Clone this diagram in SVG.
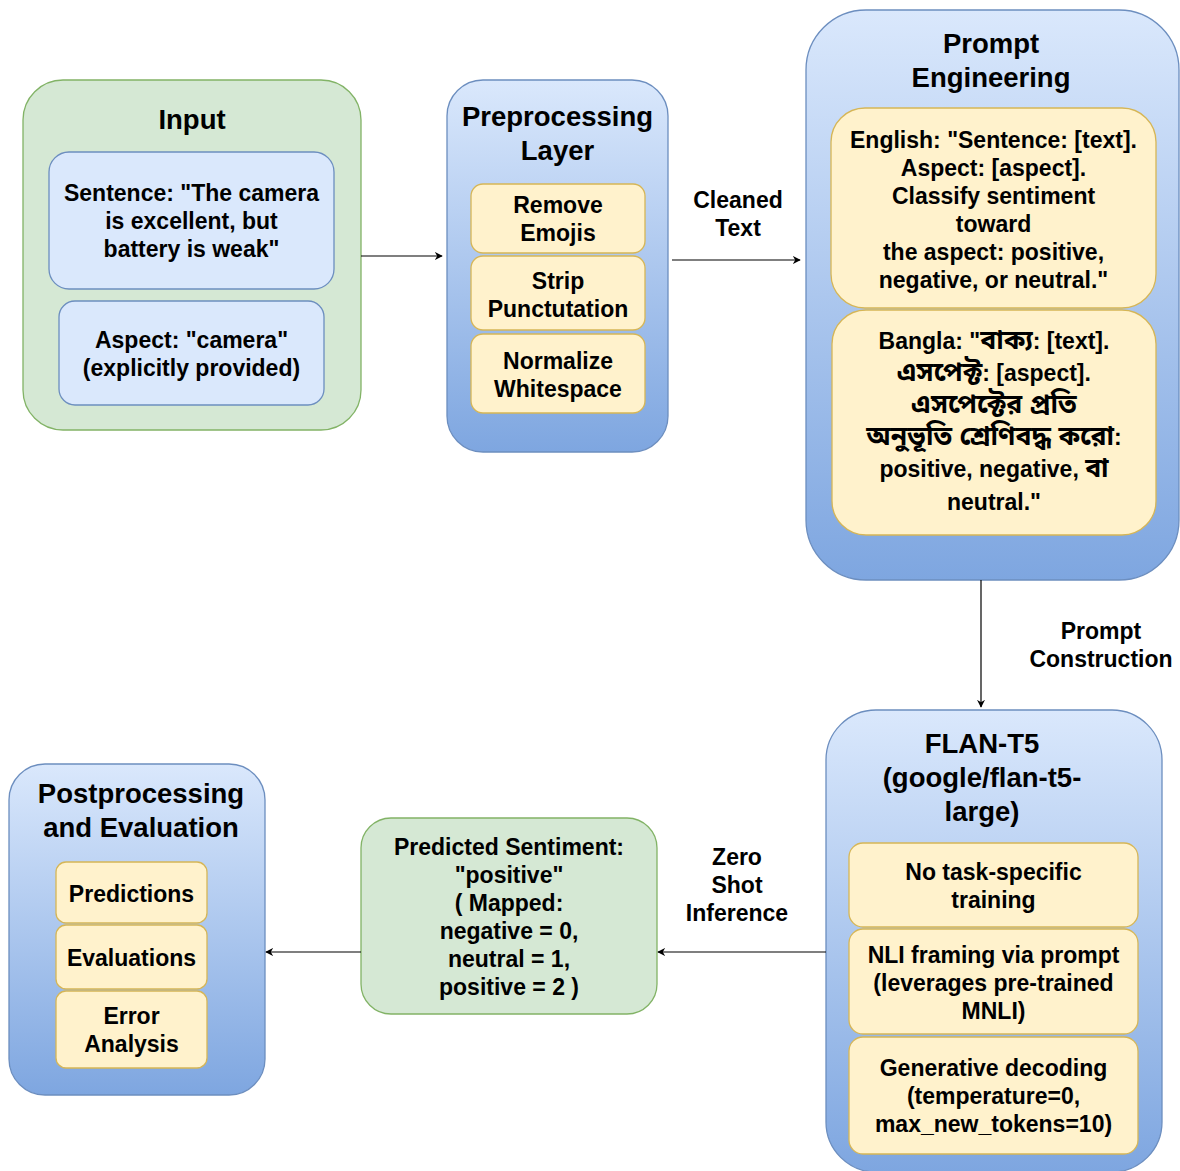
<svg xmlns="http://www.w3.org/2000/svg" width="1180" height="1171" viewBox="0 0 1180 1171">
<defs>
<linearGradient id="blueGrad" x1="0" y1="0" x2="0" y2="1">
<stop offset="0" stop-color="#dae8fc"/>
<stop offset="1" stop-color="#7ea6e0"/>
</linearGradient>
<marker id="arrow" viewBox="0 0 10 10" refX="9" refY="5" markerWidth="8" markerHeight="8" markerUnits="userSpaceOnUse" orient="auto">
<path d="M0,0 L10,5 L0,10 L3,5 Z" fill="#000"/>
</marker>
<style>
text{font-family:"Liberation Sans",Arial,"Noto Sans Bengali","Noto Sans",sans-serif;font-weight:bold;fill:#000;text-anchor:middle}
.t{font-size:27.5px}
.b{font-size:23px}
.bg{font-size:26.5px}
.green{fill:#d5e8d4;stroke:#82b366;stroke-width:1.3}
.lblue{fill:#dae8fc;stroke:#6c8ebf;stroke-width:1.3}
.cont{fill:url(#blueGrad);stroke:#6c8ebf;stroke-width:1.3}
.yel{fill:#fff2cc;stroke:#d6b656;stroke-width:1.3}
.edge{fill:none;stroke:#000;stroke-width:1.2;marker-end:url(#arrow)}
</style>
</defs>
<rect width="1180" height="1171" fill="#fff"/>

<g id="input">
<rect class="green" x="23" y="80" width="338" height="350" rx="40"/>
<text class="t" x="192" y="129">Input</text>
<rect class="lblue" x="49" y="152" width="285" height="137" rx="20"/>
<text class="b" x="191.5" y="201">Sentence: "The camera</text>
<text class="b" x="191.5" y="229">is excellent, but</text>
<text class="b" x="191.5" y="257">battery is weak"</text>
<rect class="lblue" x="59" y="301" width="265" height="104" rx="16"/>
<text class="b" x="191.5" y="348">Aspect: "camera"</text>
<text class="b" x="191.5" y="376">(explicitly provided)</text>
</g>

<g id="preprocessing">
<rect class="cont" x="447" y="80" width="221" height="372" rx="36"/>
<text class="t" x="557.5" y="126">Preprocessing</text>
<text class="t" x="557.5" y="160">Layer</text>
<rect class="yel" x="471" y="184" width="174" height="69" rx="12"/>
<text class="b" x="558" y="213">Remove</text>
<text class="b" x="558" y="241">Emojis</text>
<rect class="yel" x="471" y="256" width="174" height="74" rx="12"/>
<text class="b" x="558" y="289">Strip</text>
<text class="b" x="558" y="317">Punctutation</text>
<rect class="yel" x="471" y="334" width="174" height="79" rx="12"/>
<text class="b" x="558" y="369">Normalize</text>
<text class="b" x="558" y="397">Whitespace</text>
</g>

<g id="prompt-engineering">
<rect class="cont" x="806" y="10" width="373" height="570" rx="60"/>
<text class="t" x="991" y="53">Prompt</text>
<text class="t" x="991" y="87">Engineering</text>
<rect class="yel" x="831" y="108" width="325" height="200" rx="34"/>
<text class="b" x="993.5" y="148">English: "Sentence: [text].</text>
<text class="b" x="993.5" y="176">Aspect: [aspect].</text>
<text class="b" x="993.5" y="204">Classify sentiment</text>
<text class="b" x="993.5" y="232">toward</text>
<text class="b" x="993.5" y="260">the aspect: positive,</text>
<text class="b" x="993.5" y="288">negative, or neutral."</text>
<rect class="yel" x="832" y="310" width="324" height="225" rx="34"/>
<text class="b" x="994" y="349">Bangla: "<tspan class="bg">বাক্য</tspan>: [text].</text>
<text class="b" x="994" y="381"><tspan class="bg">এসপেক্ট</tspan>: [aspect].</text>
<text class="b" x="994" y="413"><tspan class="bg">এসপেক্টের প্রতি</tspan></text>
<text class="b" x="994" y="445"><tspan class="bg">অনুভূতি শ্রেণিবদ্ধ করো</tspan>:</text>
<text class="b" x="994" y="477">positive, negative, <tspan class="bg">বা</tspan></text>
<text class="b" x="994" y="510">neutral."</text>
</g>

<g id="flan-t5">
<rect class="cont" x="826" y="710" width="336" height="462" rx="50"/>
<text class="t" x="982" y="753">FLAN-T5</text>
<text class="t" x="982" y="787">(google/flan-t5-</text>
<text class="t" x="982" y="821">large)</text>
<rect class="yel" x="849" y="843" width="289" height="84" rx="14"/>
<text class="b" x="993.5" y="880">No task-specific</text>
<text class="b" x="993.5" y="908">training</text>
<rect class="yel" x="849" y="929" width="289" height="105" rx="14"/>
<text class="b" x="993.5" y="963">NLI framing via prompt</text>
<text class="b" x="993.5" y="991">(leverages pre-trained</text>
<text class="b" x="993.5" y="1019">MNLI)</text>
<rect class="yel" x="849" y="1037" width="289" height="117" rx="14"/>
<text class="b" x="993.5" y="1076">Generative decoding</text>
<text class="b" x="993.5" y="1104">(temperature=0,</text>
<text class="b" x="993.5" y="1132">max_new_tokens=10)</text>
</g>

<g id="predicted-sentiment">
<rect class="green" x="361" y="818" width="296" height="196" rx="30"/>
<text class="b" x="509" y="855">Predicted Sentiment:</text>
<text class="b" x="509" y="883">"positive"</text>
<text class="b" x="509" y="911">( Mapped:</text>
<text class="b" x="509" y="939">negative = 0,</text>
<text class="b" x="509" y="967">neutral = 1,</text>
<text class="b" x="509" y="995">positive = 2 )</text>
</g>

<g id="postprocessing">
<rect class="cont" x="9" y="764" width="256" height="331" rx="36"/>
<text class="t" x="141" y="803">Postprocessing</text>
<text class="t" x="141" y="837">and Evaluation</text>
<rect class="yel" x="56" y="862" width="151" height="61" rx="10"/>
<text class="b" x="131.5" y="902">Predictions</text>
<rect class="yel" x="56" y="925" width="151" height="64" rx="10"/>
<text class="b" x="131.5" y="966">Evaluations</text>
<rect class="yel" x="56" y="991" width="151" height="77" rx="10"/>
<text class="b" x="131.5" y="1024">Error</text>
<text class="b" x="131.5" y="1052">Analysis</text>
</g>

<g id="connectors">
<path class="edge" d="M361,256 L442,256"/>
<path class="edge" d="M672,260 L800,260"/>
<text class="b" x="738" y="208">Cleaned</text>
<text class="b" x="738" y="236">Text</text>
<path class="edge" d="M981,580 L981,707"/>
<text class="b" x="1101" y="639">Prompt</text>
<text class="b" x="1101" y="667">Construction</text>
<path class="edge" d="M826,952 L658,952"/>
<text class="b" x="737" y="865">Zero</text>
<text class="b" x="737" y="893">Shot</text>
<text class="b" x="737" y="921">Inference</text>
<path class="edge" d="M361,952 L266,952"/>
</g>
</svg>
